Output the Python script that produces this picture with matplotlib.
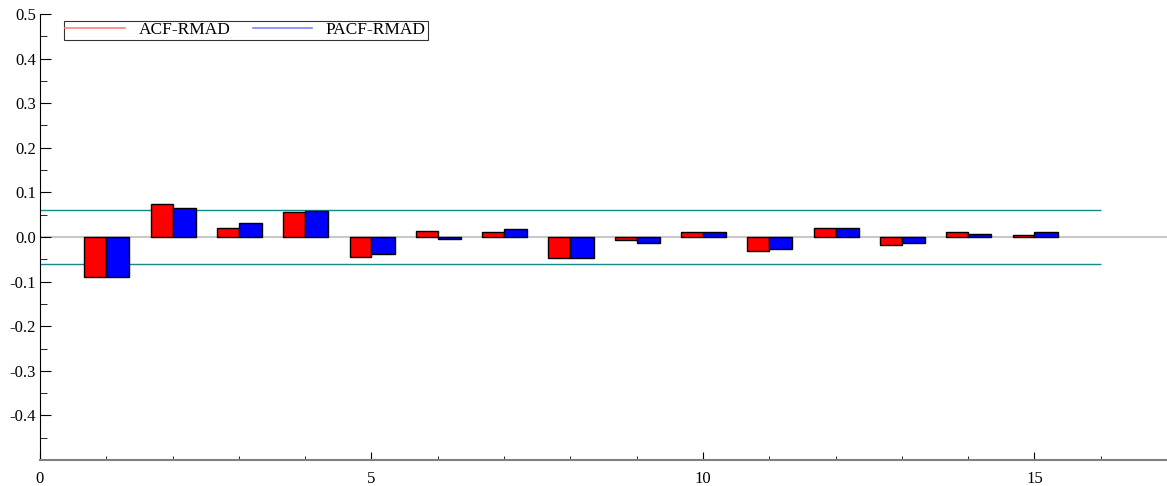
import matplotlib
matplotlib.use("Agg")
import matplotlib.pyplot as plt
from matplotlib.ticker import MultipleLocator, FixedFormatter, FixedLocator

lags = list(range(1, 16))
acf_rmad = [-0.090, 0.074, 0.020, 0.056, -0.044, 0.013, 0.012, -0.047,
            -0.007, 0.011, -0.032, 0.020, -0.018, 0.011, 0.004]
pacf_rmad = [-0.090, 0.065, 0.031, 0.058, -0.039, -0.004, 0.017, -0.047,
             -0.013, 0.012, -0.028, 0.020, -0.014, 0.006, 0.012]
conf = 0.06
ytick_vals = [-0.4, -0.3, -0.2, -0.1, 0.0, 0.1, 0.2, 0.3, 0.4, 0.5]
ytick_labels = ['-0.4', '-0.3', '-0.2', '-0.1', '0.0', '0.1', '0.2', '0.3', '0.4', '0.5']

plt.rcParams['font.family'] = ['Liberation Serif', 'DejaVu Serif']

fig = plt.figure(figsize=(11.67, 4.86), dpi=100)
ax = fig.add_axes([40/1167, 26/486, 1 - 40/1167, 1 - 40/486])

w = 0.33
ax.axhline(0, color='#c8c8c8', lw=1.5, zorder=1)
ax.bar([l - w for l in lags], acf_rmad, width=w, align='edge', color='#ff0000',
       edgecolor='black', lw=1.0, zorder=3)
ax.bar(lags, pacf_rmad, width=w + 0.02, align='edge', color='#0000ff',
       edgecolor='black', lw=1.0, zorder=3)
ax.hlines([conf, -conf], 0, 16, color='#138a8a', lw=1.0, zorder=2)

ax.plot([], [], color='#ff8080', lw=1.2, label='ACF-RMAD')
ax.plot([], [], color='#8080ff', lw=1.2, label='PACF-RMAD')
leg = ax.legend(loc='upper left', ncol=2, bbox_to_anchor=(0.018, 0.993), fontsize=12.5,
                frameon=True, fancybox=False, edgecolor='black', borderpad=0.1,
                handlelength=3.4, columnspacing=1.3, handletextpad=0.8, borderaxespad=0.2)
leg.get_frame().set_linewidth(0.8)

ax.set_xlim(0, 17)
ax.set_ylim(-0.5, 0.5)
ax.spines['top'].set_visible(False)
ax.spines['right'].set_visible(False)
ax.spines['left'].set_color('black')
ax.spines['bottom'].set_color('#808080')
ax.spines['bottom'].set_linewidth(1.5)

ax.yaxis.set_major_locator(FixedLocator(ytick_vals))
ax.yaxis.set_major_formatter(FixedFormatter(ytick_labels))
ax.yaxis.set_minor_locator(MultipleLocator(0.05))
ax.xaxis.set_major_locator(MultipleLocator(5))
ax.xaxis.set_minor_locator(MultipleLocator(1))
ax.tick_params(axis='y', which='major', direction='in', length=8, labelsize=12, pad=3)
ax.tick_params(axis='y', which='minor', direction='in', length=5)
ax.tick_params(axis='x', which='major', direction='in', length=6, labelsize=12, pad=8)
ax.tick_params(axis='x', which='minor', direction='in', length=3)

fig.savefig('out.png', dpi=100)
